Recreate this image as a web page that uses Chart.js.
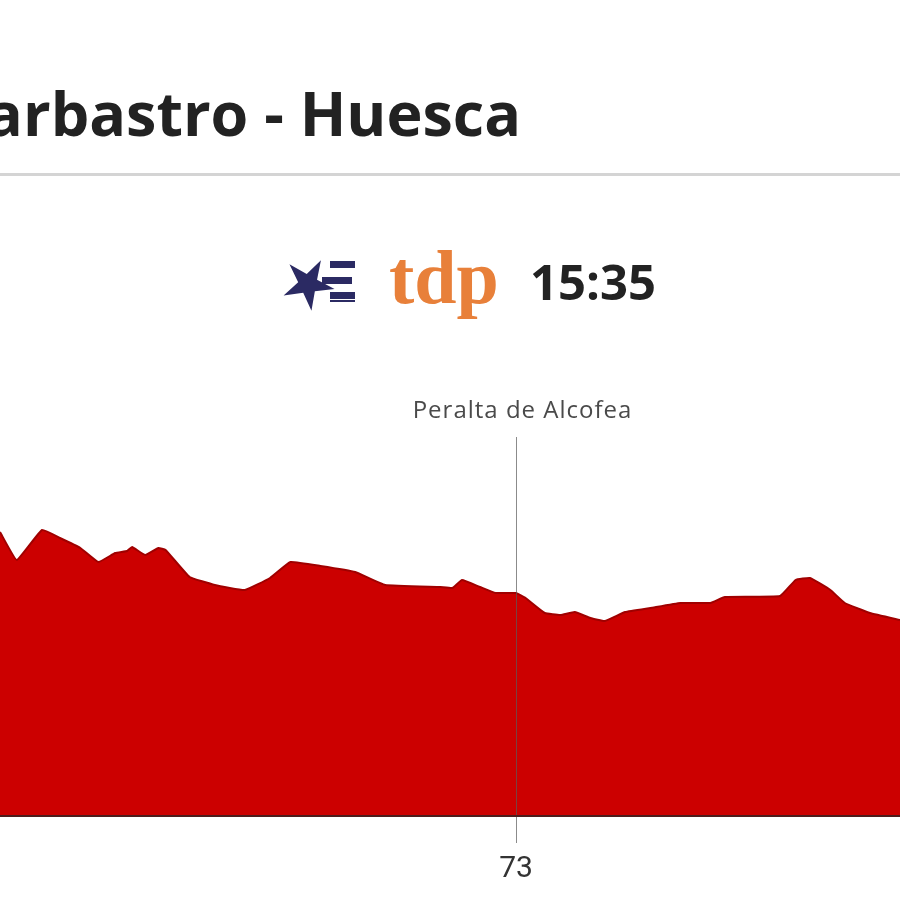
<!DOCTYPE html>
<html>
<head>
<meta charset="utf-8">
<script src="https://cdn.jsdelivr.net/npm/chart.js@4"></script>
<style>
  html, body { margin: 0; padding: 0; background: #fff; }
  #wrap { width: 900px; height: 900px; position: relative; overflow: hidden; }
</style>
</head>
<body>
<div id="wrap"><canvas id="profile" width="900" height="900"></canvas></div>
<script>
const stageTitle = 'Barbastro - Huesca'
const startTime = '15:35'
const markerName = 'Peralta de Alcofea'
const markerKm = 73
const tickKms = [73]

// distance (km) and altitude (m)
const kms = [30, 31.4, 33.5, 35, 36.7, 38.2, 39.6, 40.6, 41, 42.1, 43.2, 43.8, 45.8, 47.9, 50.4,
  52.5, 54.2, 56.7, 59.6, 62.1, 66.7, 67.7, 68.5, 70, 71.3, 73, 73.8, 75.4, 76.7, 77.9, 79.2,
  80.4, 82.1, 84.2, 86.7, 89.2, 90.4, 95, 96.3, 97.5, 99.2, 100.4, 102.5, 105]
const altitudes = [566, 510, 570, 554, 534, 506, 524, 528, 536, 520, 534, 530, 476, 460, 450,
  474, 506, 498, 486, 460, 456, 454, 470, 456, 444, 444, 434, 404, 400, 406, 394,
  388, 406, 414, 424, 424, 436, 438, 470, 474, 450, 424, 404, 390]

const fillRed = '#cc0000'
const edgeRed = '#a00000'

const headerPlugin = {
  id: 'header',
  beforeDraw(chart) {
    const ctx = chart.ctx
    ctx.save()
    ctx.fillStyle = '#fff'
    ctx.fillRect(0, 0, chart.width, chart.height)
    // title, clipped on the left like the original
    ctx.fillStyle = '#222'
    ctx.font = 'bold 61px "Open Sans"'
    ctx.textAlign = 'right'
    ctx.textBaseline = 'alphabetic'
    ctx.fillText(stageTitle, 521, 136)
    // separator
    ctx.fillStyle = '#d4d4d4'
    ctx.fillRect(0, 173, chart.width, 3)
    // logo: star + bars
    ctx.fillStyle = '#2b2a63'
    const cx = 308, cy = 284
    ctx.beginPath()
    for (let i = 0; i < 10; i++) {
      const r = i % 2 === 0 ? 27 : 10
      const a = -Math.PI / 2 + 0.5 + i * Math.PI / 5
      const px = cx + r * Math.cos(a), py = cy + r * Math.sin(a)
      if (i === 0) ctx.moveTo(px, py); else ctx.lineTo(px, py)
    }
    ctx.closePath()
    ctx.fill()
    ctx.fillRect(330, 261, 25, 7)
    ctx.fillRect(322, 277, 30, 7)
    ctx.fillRect(330, 292, 25, 7)
    ctx.fillRect(330, 300, 25, 2)
    // tdp
    ctx.textAlign = 'left'
    ctx.fillStyle = '#e8803a'
    ctx.font = 'bold 76px "Liberation Serif"'
    ctx.fillText('tdp', 389, 303)
    // time
    ctx.fillStyle = '#222'
    ctx.font = 'bold 49px "Open Sans"'
    ctx.fillText(startTime, 530, 300)
    ctx.restore()
  },
  afterDatasetsDraw(chart) {
    const ctx = chart.ctx
    const x = Math.round(chart.scales.x.getPixelForValue(markerKm)) + 0.5
    ctx.save()
    ctx.strokeStyle = 'rgba(90,90,90,0.7)'
    ctx.lineWidth = 1
    ctx.beginPath()
    ctx.moveTo(x, 437)
    ctx.lineTo(x, chart.chartArea.bottom)
    ctx.stroke()
    ctx.fillStyle = '#4a4a4a'
    ctx.font = '24px "Open Sans"'
    ctx.letterSpacing = '1px'
    ctx.textAlign = 'center'
    ctx.fillText(markerName, x + 6, 418)
    ctx.restore()
  }
}

new Chart(document.getElementById('profile'), {
  type: 'line',
  data: {
    datasets: [{
      data: kms.map((k, i) => ({ x: k, y: altitudes[i] })),
      borderColor: edgeRed,
      borderWidth: 2,
      backgroundColor: fillRed,
      fill: 'start',
      pointRadius: 0,
      tension: 0.1
    }]
  },
  options: {
    responsive: false,
    animation: false,
    events: [],
    layout: { padding: { top: 415, left: 0, right: 0, bottom: 0 } },
    plugins: { legend: { display: false }, tooltip: { enabled: false } },
    scales: {
      x: {
        type: 'linear',
        min: 30,
        max: 105,
        afterBuildTicks: (scale) => { scale.ticks = tickKms.map(v => ({ value: v })) },
        afterFit: (scale) => { scale.height = 85 },
        grid: { drawOnChartArea: false, drawTicks: true, tickLength: 28, color: 'rgba(90,90,90,0.7)', lineWidth: 1 },
        border: { display: true, color: '#4e1c1c', width: 4 },
        ticks: {
          padding: 8,
          color: '#333',
          font: { family: '"Roboto"', size: 30 },
          maxRotation: 0
        }
      },
      y: { display: false, min: 0, max: 800 }
    }
  },
  plugins: [headerPlugin]
})
</script>
</body>
</html>
